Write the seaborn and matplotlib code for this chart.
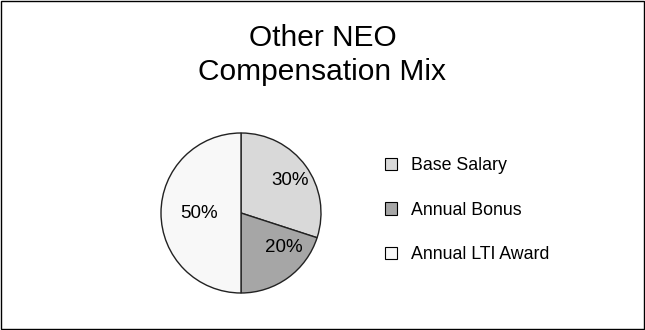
import matplotlib
matplotlib.use("Agg")
import matplotlib.pyplot as plt
import seaborn as sns
from matplotlib.patches import Rectangle, Patch

sns.set_theme(style="white")
plt.rcParams['font.family'] = ['Liberation Sans', 'DejaVu Sans']
plt.rcParams['text.color'] = 'black'

categories = ["Base Salary", "Annual Bonus", "Annual LTI Award"]
values = [30, 20, 50]
colors = ["#d9d9d9", "#a6a6a6", "#f8f8f8"]
title_lines = ["Other NEO", "Compensation Mix"]

fig = plt.figure(figsize=(6.45, 3.3), dpi=100)
fig.patch.set_facecolor("white")

ax = fig.add_axes([161/645, 37/330, 160/645, 160/330])
wedges, texts, autotexts = ax.pie(
    values, colors=colors, startangle=90, counterclock=False,
    autopct=lambda p: f"{p:.0f}%", pctdistance=0.6,
    wedgeprops=dict(edgecolor="#222222", linewidth=1.0),
    textprops=dict(fontsize=13.5, color="black"))
# fine-tune label positions (radius units)
label_pos = [(0.61, 0.41), (0.53, -0.43), (-0.52, 0.0)]
for t, (x, y) in zip(autotexts, label_pos):
    t.set_position((x, y))
    t.set_ha("center"); t.set_va("center")
ax.set_xlim(-1.0, 1.0)
ax.set_ylim(-1.0, 1.0)
ax.set_aspect("equal")
ax.axis("off")

handles = [Patch(facecolor=c, edgecolor="black", linewidth=0.8) for c in colors]
fig.legend(handles, categories, loc="upper left", bbox_to_anchor=(385/645, 1 - 157/330),
           frameon=False, fontsize=12.8, handlelength=0.7, handleheight=0.7,
           handletextpad=0.75, labelspacing=1.55, borderaxespad=0, borderpad=0)

fig.text(0.5, 1 - 38/330, title_lines[0], ha="center", va="center", fontsize=21.5)
fig.text(0.5, 1 - 72/330, title_lines[1], ha="center", va="center", fontsize=21.5)

fig.add_artist(Rectangle((0.5/645, 1.0/330), 1 - 1.5/645, 1 - 2.0/330,
                         transform=fig.transFigure, fill=False, edgecolor="black", linewidth=1.0))

fig.savefig("out.png", dpi=100, facecolor="white")
